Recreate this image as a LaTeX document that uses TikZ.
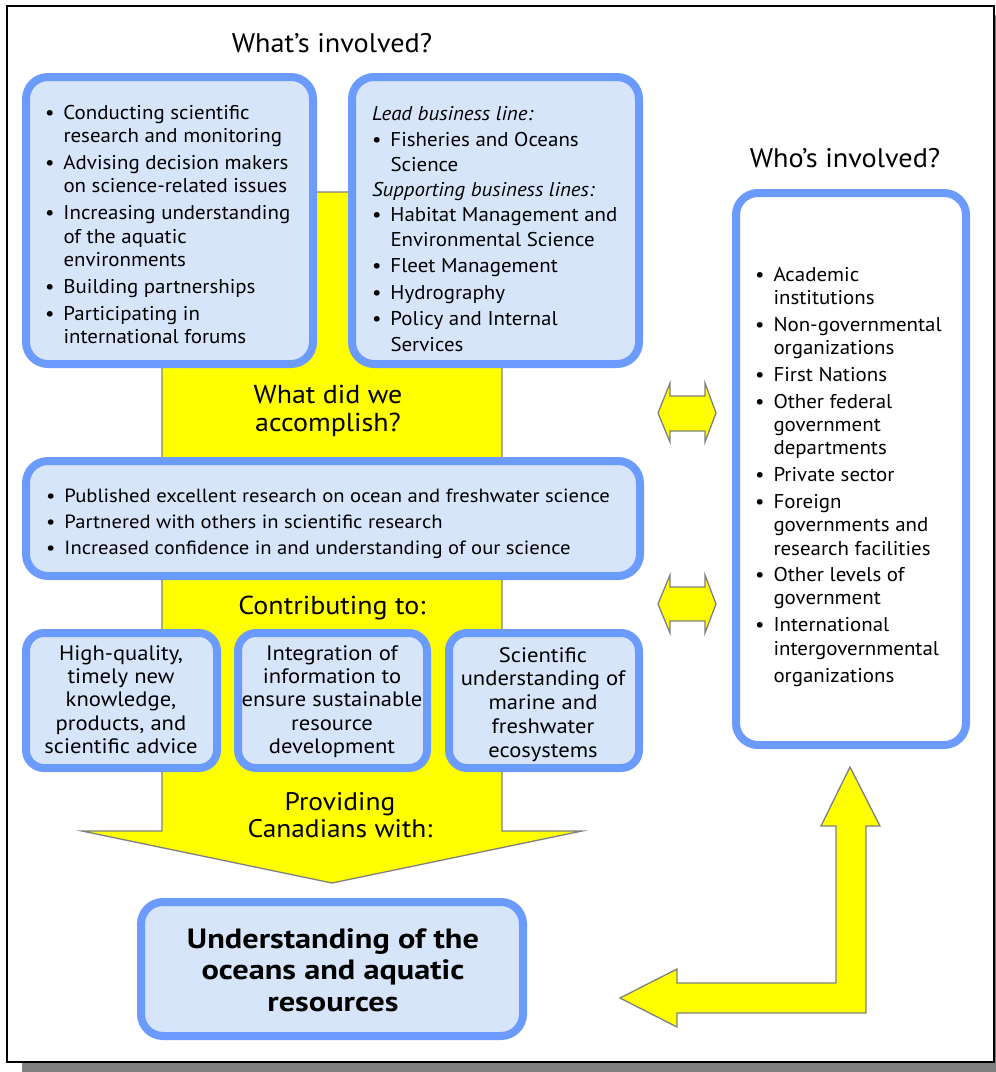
\documentclass[tikz,border=0pt]{standalone}
\usepackage{fontspec}
\setmainfont[FakeStretch=1.05]{PT Sans}
\newfontfamily\condf[FakeStretch=1.08]{PT Sans}
\newfontfamily\heavyf[FakeStretch=1.16]{PT Sans}
\definecolor{boxblue}{RGB}{108,155,255}
\definecolor{boxfill}{RGB}{214,229,250}
\definecolor{outl}{RGB}{128,128,128}
\definecolor{shadowgray}{RGB}{128,128,128}
\definecolor{ylwfill}{RGB}{255,255,0}
\newcommand\bul{\makebox[18.5bp][l]{\textbullet}}
\tikzset{
  box/.style={draw=boxblue, line width=8bp, fill=boxfill, rounded corners=22bp, inner sep=0pt, outer sep=0pt, anchor=north west},
  smallbox/.style={box, rounded corners=18bp},
  ylw/.style={fill=ylwfill, draw=outl, line width=1.3bp, line join=miter},
  txt/.style={inner sep=0pt, outer sep=0pt},
}
\begin{document}
\begin{tikzpicture}[x=1bp,y=-1bp]
\useasboundingbox (0,0) rectangle (996,1072);
% frame and shadow
\fill[shadowgray] (22,15) rectangle (996,1072);
\draw[line width=2bp, fill=white] (7,6) rectangle (994,1062);

% big yellow arrow
\draw[ylw] (162,192) -- (502,192) -- (502,831) -- (582,831) -- (332,883) -- (82,831) -- (162,831) -- cycle;

% titles
\node[txt, anchor=base, font=\fontsize{27}{30}\selectfont] (title1) at (332,52) {What’s involved?};
\node[txt, anchor=base, font=\fontsize{27}{30}\selectfont] (title2) at (845,167) {Who’s involved?};

% boxes
\node[box, minimum width=287bp, minimum height=287bp] (b1) at (26,77) {};
\node[box, minimum width=287bp, minimum height=287bp] (b2) at (352,77) {};
\node[box, minimum width=614bp, minimum height=115bp] (mid) at (26,461) {};
\node[smallbox, minimum width=191bp, minimum height=135bp] (ba) at (26,633) {};
\node[smallbox, minimum width=189bp, minimum height=135bp] (bb) at (238,633) {};
\node[smallbox, minimum width=190bp, minimum height=135bp] (bc) at (449,633) {};
\node[box, minimum width=382bp, minimum height=134bp] (bot) at (141,902) {};
\node[box, fill=white, minimum width=230bp, minimum height=552bp] (who) at (736,193) {};

% box 1 text
\node[txt, anchor=base west] (t1) at (45,119) {\fontsize{20}{23.5}\selectfont
\begin{tabular}[t]{@{}l@{}l@{}}
\bul & Conducting scientific\\
     & research and monitoring\\[3.5bp]
\bul & Advising decision makers\\
     & on science-related issues\\[3.5bp]
\bul & Increasing understanding\\
     & of the aquatic\\
     & environments\\[3.5bp]
\bul & Building partnerships\\[3.5bp]
\bul & Participating in\\
     & international forums
\end{tabular}};

% box 2 text
\node[txt, anchor=base west] (t2) at (372,120) {\fontsize{20}{24.5}\selectfont
\begin{tabular}[t]{@{}l@{}l@{}}
\multicolumn{2}{@{}l@{}}{\itshape Lead business line:}\\[2.5bp]
\bul & Fisheries and Oceans\\[0.5bp]
     & Science\\[0.5bp]
\multicolumn{2}{@{}l@{}}{\itshape Supporting business lines:}\\[0.5bp]
\bul & Habitat Management and\\
     & Environmental Science\\[2.5bp]
\bul & Fleet Management\\[2.5bp]
\bul & Hydrography\\[1.5bp]
\bul & Policy and Internal\\[1.5bp]
     & Services
\end{tabular}};

% what did we accomplish
\node[txt, anchor=base, font=\condf\fontsize{26}{29}\selectfont] (q2) at (328,403)
  {\begin{tabular}[t]{@{}c@{}}What did we\\ accomplish?\end{tabular}};

% middle box text
\node[txt, anchor=base west] (tm) at (46,502) {\condf\fontsize{19.2}{26.5}\selectfont
\begin{tabular}[t]{@{}l@{}l@{}}
\bul & Published excellent research on ocean and freshwater science\\
\bul & Partnered with others in scientific research\\
\bul & Increased confidence in and understanding of our science
\end{tabular}};

% contributing
\node[txt, anchor=base, font=\condf\fontsize{26}{29}\selectfont] (q3) at (332,614) {Contributing to:};

% three boxes text
\node[txt, anchor=base] (ta) at (121,660) {\condf\fontsize{21}{23.5}\selectfont
\begin{tabular}[t]{@{}c@{}}High-quality,\\ timely new\\ knowledge,\\ products, and\\ scientific advice\end{tabular}};
\node[txt, anchor=base] (tb) at (332,660) {\condf\fontsize{21}{23.5}\selectfont
\begin{tabular}[t]{@{}c@{}}Integration of\\ information to\\ ensure sustainable\\ resource\\ development\end{tabular}};
\node[txt, anchor=base] (tc) at (543,662) {\condf\fontsize{21}{24}\selectfont
\begin{tabular}[t]{@{}c@{}}Scientific\\ understanding of\\ marine and\\ freshwater\\ ecosystems\end{tabular}};

% providing
\node[txt, anchor=base, font=\condf\fontsize{25.5}{28}\selectfont] (q4) at (340,810)
  {\begin{tabular}[t]{@{}c@{}}Providing\\ Canadians with:\end{tabular}};

% bottom box text
\node[txt, anchor=base] (tbot) at (333,948) {\heavyf\bfseries\fontsize{28}{32}\selectfont
\begin{tabular}[t]{@{}c@{}}Understanding of the\\ oceans and aquatic\\ resources\end{tabular}};

% who's involved text
\node[txt, anchor=base west] (tw) at (755,281) {\fontsize{20}{23.5}\selectfont
\begin{tabular}[t]{@{}l@{}l@{}}
\bul & Academic\\
     & institutions\\[3.5bp]
\bul & Non-governmental\\
     & organizations\\[3.5bp]
\bul & First Nations\\[3bp]
\bul & Other federal\\
     & government\\
     & departments\\[3.5bp]
\bul & Private sector\\[3bp]
\bul & Foreign\\
     & governments and\\
     & research facilities\\[3bp]
\bul & Other levels of\\
     & government\\[3.5bp]
\bul & International\\
     & intergovernmental\\[3.5bp]
     & organizations
\end{tabular}};

% double arrows
\draw[ylw] (658,413) -- (670,383) -- (670,396) -- (705,396) -- (705,383) -- (716,413)
  -- (705,442) -- (705,431) -- (670,431) -- (670,442) -- cycle;
\draw[ylw] (658,604) -- (670,575) -- (670,587) -- (705,587) -- (705,575) -- (716,604)
  -- (705,633) -- (705,621) -- (670,621) -- (670,633) -- cycle;

% L arrow
\draw[ylw] (850,767) -- (880,826) -- (866,826) -- (866,1013) -- (677,1013) -- (677,1027)
  -- (620,998) -- (677,969) -- (677,983) -- (836,983) -- (836,826) -- (821,826) -- cycle;
\end{tikzpicture}
\end{document}
